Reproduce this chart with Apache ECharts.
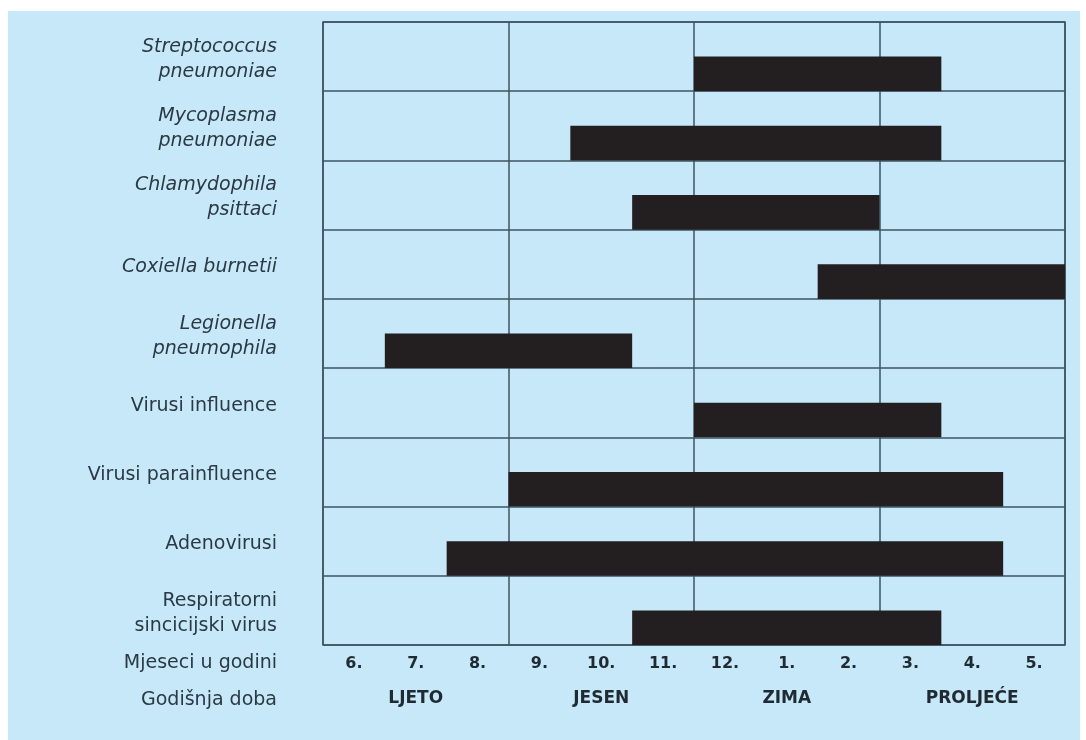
<!DOCTYPE html>
<html>
<head>
<meta charset="utf-8">
<script src="https://cdn.jsdelivr.net/npm/echarts@6/dist/echarts.min.js"></script>
<style>
  html, body { margin: 0; padding: 0; background: #ffffff; }
  #wrap { position: relative; width: 1086px; height: 740px; background: #ffffff; }
  #bg { position: absolute; left: 8px; top: 11px; width: 1072px; height: 729px; background: #c6e8f8; }
  #chart { position: absolute; left: 0; top: 0; width: 1086px; height: 740px; }
</style>
</head>
<body>
<div id="wrap"><div id="bg"></div><div id="chart"></div></div>
<script>
// Pathogens (rows, top to bottom)
const categories = [
  'Streptococcus\npneumoniae',
  'Mycoplasma\npneumoniae',
  'Chlamydophila\npsittaci',
  'Coxiella burnetii',
  'Legionella\npneumophila',
  'Virusi influence',
  'Virusi parainfluence',
  'Adenovirusi',
  'Respiratorni\nsincicijski virus'
];
const italicRows = [true, true, true, true, true, false, false, false, false];
// Bar start / end on the month scale (0 = start of June, 12 = end of May)
const barStart = [6, 4, 5, 8, 1, 6, 3, 2, 5];
const barEnd   = [10, 10, 9, 12, 5, 10, 11, 11, 10];
// Tick labels
const months  = ['6.', '7.', '8.', '9.', '10.', '11.', '12.', '1.', '2.', '3.', '4.', '5.'];
const seasons = ['LJETO', 'JESEN', 'ZIMA', 'PROLJEĆE'];
const rowTitleMonths  = 'Mjeseci u godini';
const rowTitleSeasons = 'Godišnja doba';

const lineColor = '#3e5461';
const textColor = '#2b3944';
const barColor  = '#231f20';

const seriesData = categories.map((c, i) => [barStart[i], barEnd[i], i]);

const chart = echarts.init(document.getElementById('chart'), null, { renderer: 'canvas' });
chart.setOption({
  backgroundColor: 'transparent',
  animation: false,
  grid: {
    left: 323, right: 21, top: 22, bottom: 95,
    show: true, borderColor: lineColor, borderWidth: 1.5, backgroundColor: 'transparent'
  },
  xAxis: [
    {
      type: 'value', min: 0, max: 12, interval: 3, position: 'bottom',
      axisLine: { show: false }, axisTick: { show: false }, axisLabel: { show: false },
      splitLine: { show: true, lineStyle: { color: lineColor, width: 1.5 } }
    },
    {
      type: 'category', data: months, position: 'bottom', boundaryGap: true,
      axisLine: { show: false }, axisTick: { show: false }, splitLine: { show: false },
      axisLabel: {
        margin: 11, color: '#1f2a33', fontSize: 16, fontWeight: 'bold',
        fontFamily: 'DejaVu Sans, sans-serif'
      }
    },
    {
      type: 'category', data: seasons, position: 'bottom', boundaryGap: true,
      axisLine: { show: false }, axisTick: { show: false }, splitLine: { show: false },
      axisLabel: {
        margin: 45, color: '#1f2a33', fontSize: 17, fontWeight: 'bold',
        fontFamily: 'DejaVu Sans, sans-serif'
      }
    }
  ],
  yAxis: {
    type: 'category', data: categories, inverse: true, boundaryGap: true,
    axisLine: { show: false }, axisTick: { show: false },
    splitLine: { show: true, lineStyle: { color: lineColor, width: 1.5 } },
    axisLabel: {
      margin: 46, align: 'right',
      formatter: function (value, idx) {
        const tag = italicRows[idx] ? 'i' : 'n';
        return value.split('\n').map(l => '{' + tag + '|' + l + '}').join('\n');
      },
      rich: {
        i: { fontStyle: 'italic', fontSize: 19, lineHeight: 25, color: textColor,
             fontFamily: 'DejaVu Sans, sans-serif', padding: [6, 0, 0, 0] },
        n: { fontSize: 19, lineHeight: 25, color: textColor,
             fontFamily: 'DejaVu Sans, sans-serif', padding: [6, 0, 0, 0] }
      }
    }
  },
  graphic: {
    elements: [
      { type: 'text', x: 277, y: 663, silent: true,
        style: { text: rowTitleMonths, textAlign: 'right', textVerticalAlign: 'middle',
                 fill: textColor, font: '19px "DejaVu Sans", sans-serif' } },
      { type: 'text', x: 277, y: 700, silent: true,
        style: { text: rowTitleSeasons, textAlign: 'right', textVerticalAlign: 'middle',
                 fill: textColor, font: '19px "DejaVu Sans", sans-serif' } }
    ]
  },
  series: [{
    type: 'custom',
    xAxisIndex: 0, yAxisIndex: 0,
    encode: { x: [0, 1], y: 2 },
    data: seriesData,
    renderItem: function (params, api) {
      const cat = api.value(2);
      const s = api.coord([api.value(0), cat]);
      const e = api.coord([api.value(1), cat]);
      const h = api.size([0, 1])[1];
      return {
        type: 'rect',
        shape: { x: s[0], y: s[1], width: e[0] - s[0], height: h / 2 },
        style: { fill: barColor }
      };
    }
  }]
});
</script>
</body>
</html>
